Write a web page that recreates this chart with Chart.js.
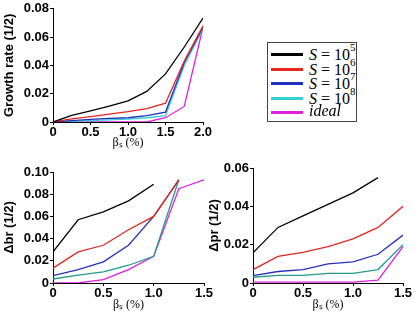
<!DOCTYPE html>
<html lang="en">
<head>
  <meta charset="UTF-8">
  <title>Growth rate and island widths vs beta</title>
  <script src="https://cdn.jsdelivr.net/npm/chart.js"></script>
  <style>
    body { margin: 0; background: #fff; }
    #wrap { position: relative; width: 415px; height: 314px; overflow: hidden; }
    canvas { position: absolute; }
    #legend {
      position: absolute; left: 267px; top: 42px; width: 88px; height: 78px;
      border: 1px solid #444; font-family: "Liberation Serif", serif; font-size: 16px;
    }
    .row { position: absolute; left: 0; height: 15px; width: 88px; }
    .row span.ln { position: absolute; left: 3px; top: 6px; width: 32px; height: 3px; }
    .row span.tx { position: absolute; left: 41px; top: -3px; white-space: nowrap; }
    .row sup { font-size: 11px; position: relative; top: -3px; }
    .row i { font-style: italic; }
  </style>
</head>
<body>
  <div id="wrap">
    <canvas id="growth" width="215" height="152" style="left:0;top:0"></canvas>
    <canvas id="dbr" width="225" height="164" style="left:0;top:150px"></canvas>
    <canvas id="dpr" width="210" height="164" style="left:205px;top:150px"></canvas>
    <div id="legend">
      <div class="row" style="top:4px"><span class="ln" style="background:#000"></span><span class="tx"><i>S</i> = 10<sup>5</sup></span></div>
      <div class="row" style="top:19px"><span class="ln" style="background:#e8251f"></span><span class="tx"><i>S</i> = 10<sup>6</sup></span></div>
      <div class="row" style="top:33px"><span class="ln" style="background:#1f2fbf"></span><span class="tx"><i>S</i> = 10<sup>7</sup></span></div>
      <div class="row" style="top:48px"><span class="ln" style="background:#33cfd2"></span><span class="tx"><i>S</i> = 10<sup>8</sup></span></div>
      <div class="row" style="top:62px"><span class="ln" style="background:#e01ee0"></span><span class="tx"><i>ideal</i></span></div>
    </div>
  </div>

  <script>
    // beta values (%)
    const betaTop = [0, 0.25, 0.5, 0.75, 1.0, 1.25, 1.5, 1.75, 2.0];
    const betaBottom = [0, 0.25, 0.5, 0.75, 1.0, 1.25, 1.5];

    const seriesNames = ['S = 10^5', 'S = 10^6', 'S = 10^7', 'S = 10^8', 'ideal'];

    // growth rate
    const growthS5 = [0, 0.0046, 0.0078, 0.0113, 0.015, 0.0216, 0.034, 0.053, 0.0735];
    const growthS6 = [0, 0.0022, 0.0038, 0.0056, 0.0074, 0.0095, 0.0133, 0.043, 0.068];
    const growthS7 = [0, 0.001, 0.0018, 0.0025, 0.003, 0.0045, 0.007, 0.042, 0.067];
    const growthS8 = [0, 0.0005, 0.001, 0.0015, 0.002, 0.003, 0.0045, 0.040, 0.066];
    const growthIdeal = [0, 0, 0, 0, 0, 0, 0.003, 0.011, 0.067];

    // delta br
    const dbrS5 = [0.028, 0.057, 0.064, 0.074, 0.089];
    const dbrS6 = [0.0134, 0.028, 0.034, 0.048, 0.060, 0.093];
    const dbrS7 = [0.0066, 0.012, 0.019, 0.034, 0.060, 0.093];
    const dbrS8 = [0.0036, 0.007, 0.010, 0.016, 0.024, 0.093];
    const dbrIdeal = [0, 0, 0.003, 0.012, 0.024, 0.085, 0.093];

    // delta pr
    const dprS5 = [0.0157, 0.029, 0.035, 0.041, 0.047, 0.055];
    const dprS6 = [0.007, 0.0139, 0.016, 0.019, 0.023, 0.029, 0.040];
    const dprS7 = [0.0038, 0.006, 0.007, 0.010, 0.011, 0.015, 0.025];
    const dprS8 = [0.003, 0.004, 0.004, 0.005, 0.005, 0.007, 0.020];
    const dprIdeal = [0.0005, 0.0005, 0.0005, 0.0005, 0.0005, 0.0015, 0.019];

    const colorsTop = ['#000000', '#e8251f', '#1f2fbf', '#33cfd2', '#e01ee0'];
    const colorsBottom = ['#000000', '#e0281f', '#2530b8', '#239b8c', '#e01ee0'];

    function pts(xs, ys) {
      return ys.map((y, i) => ({ x: xs[i], y: y }));
    }

    function makeChart(id, xs, series, colors, o) {
      const ctx = document.getElementById(id).getContext('2d');
      return new Chart(ctx, {
        type: 'line',
        data: {
          datasets: series.map((s, i) => ({
            label: seriesNames[i],
            data: pts(xs, s),
            borderColor: colors[i],
            borderWidth: 1.3,
            pointRadius: 0,
            tension: 0,
            fill: false
          }))
        },
        options: {
          responsive: false,
          animation: false,
          layout: { padding: { top: o.top, right: o.right, left: 0, bottom: 0 } },
          plugins: { legend: { display: false }, tooltip: { enabled: false } },
          scales: {
            x: {
              type: 'linear', min: 0, max: o.xmax,
              afterFit: s => { s.height = o.xh; },
              ticks: {
                stepSize: 0.5, padding: 0, color: '#000',
                font: { family: 'Liberation Sans, Arial', size: 13, weight: 'bold' },
                maxRotation: 0,
                callback: v => v === 0 ? '0' : v.toFixed(1)
              },
              grid: { display: true, drawOnChartArea: false, tickLength: 3, color: '#000' },
              border: { display: true, color: '#000', width: 1 },
              title: {
                display: true, text: 'βₛ (%)', color: '#000',
                font: { family: 'Liberation Serif, serif', size: 12 },
                padding: { top: 0, bottom: 2 }
              }
            },
            y: {
              min: 0, max: o.ymax,
              afterFit: s => { s.width = o.yw; },
              ticks: {
                stepSize: 0.02, padding: 1, color: '#000',
                font: { family: 'Liberation Sans, Arial', size: 13, weight: 'bold' },
                callback: v => v === 0 ? '0' : v.toFixed(2)
              },
              grid: { display: true, drawOnChartArea: false, tickLength: 3, color: '#000' },
              border: { display: true, color: '#000', width: 1 },
              title: {
                display: true, text: o.ytitle, color: '#000',
                font: { family: 'Liberation Sans, Arial', size: 13, weight: 'bold' },
                padding: { top: 2, bottom: 0 }
              }
            }
          }
        }
      });
    }

    makeChart('growth', betaTop,
      [growthS5, growthS6, growthS7, growthS8, growthIdeal], colorsTop,
      { top: 0, right: 12, xmax: 2.0, ymax: 0.08, xh: 30, yw: 53, ytitle: 'Growth rate (1/2)' });

    makeChart('dbr', betaBottom,
      [dbrS5, dbrS6, dbrS7, dbrS8, dbrIdeal], colorsBottom,
      { top: 22, right: 21, xmax: 1.5, ymax: 0.10, xh: 31, yw: 53, ytitle: 'Δbr (1/2)' });

    makeChart('dpr', betaBottom,
      [dprS5, dprS6, dprS7, dprS8, dprIdeal], colorsBottom,
      { top: 18, right: 12, xmax: 1.5, ymax: 0.06, xh: 31, yw: 48, ytitle: 'Δpr (1/2)' });
  </script>
</body>
</html>
